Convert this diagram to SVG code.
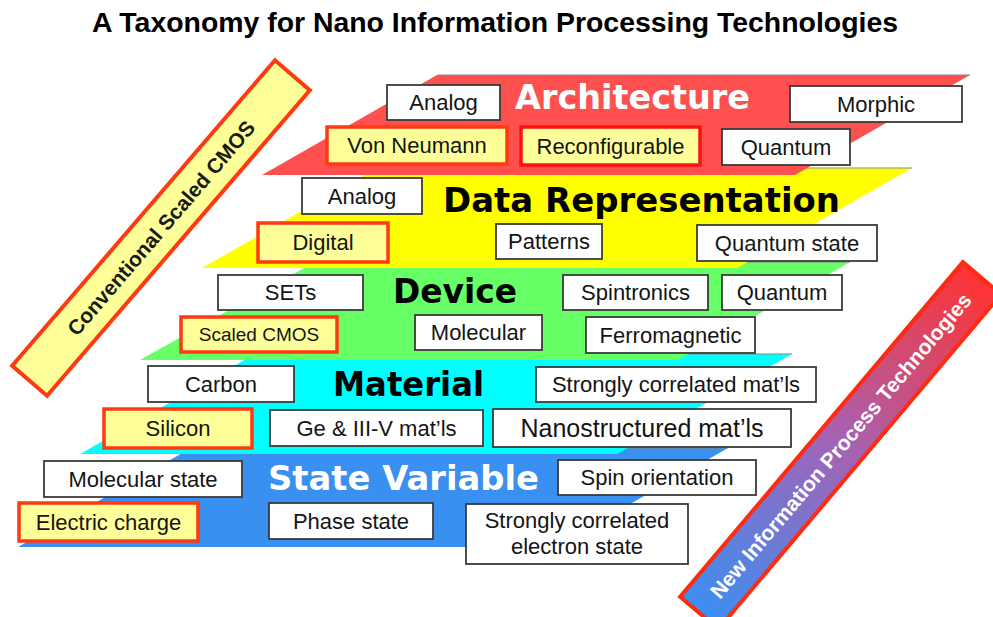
<svg xmlns="http://www.w3.org/2000/svg" width="993" height="617" viewBox="0 0 993 617">
<defs>
<style>
.bx{fill:#fff;stroke:#3a3a3a;stroke-width:1.8}
.yb{fill:#FFFF99;stroke:#FF3A10;stroke-width:3.5}
.rb{fill:#FFFF99;stroke:#FF1010;stroke-width:3.5}
.t{font-family:"Liberation Sans",Arial,sans-serif;font-size:22px;fill:#141414;text-anchor:middle}
.h{font-family:"DejaVu Sans",Verdana,sans-serif;font-weight:bold;font-size:33px;text-anchor:middle}
.edge{fill:none;stroke:#8a8a8a;stroke-width:1.2}
.title{font-family:"Liberation Sans",Arial,sans-serif;font-weight:bold;font-size:28.5px;fill:#000;text-anchor:middle}
.bt{font-family:"Liberation Sans",Arial,sans-serif;font-weight:bold;font-size:21px;text-anchor:middle}
</style>
<linearGradient id="grad" x1="0" y1="0" x2="1" y2="0">
<stop offset="0" stop-color="#3b8ff2"/>
<stop offset="0.5" stop-color="#a463b4"/>
<stop offset="1" stop-color="#ff3333"/>
</linearGradient>
</defs>
<rect width="993" height="617" fill="#fff"/>
<text class="title" x="495" y="32" textLength="806" lengthAdjust="spacingAndGlyphs">A Taxonomy for Nano Information Processing Technologies</text>

<!-- State Variable layer -->
<g id="layer-state-variable">
<polygon points="191,448 728,448 555,547 18,547" fill="#3990F0"/>
<polyline class="edge" points="191,448 728,448"/>
<text class="h" x="403.5" y="490" fill="#fff" textLength="271" lengthAdjust="spacingAndGlyphs">State Variable</text>
<g id="sv-molecular-state"><rect class="bx" x="44" y="461" width="198" height="36"/><text class="t" x="143" y="486.5">Molecular state</text></g>
<g id="sv-spin-orientation"><rect class="bx" x="558" y="460" width="198" height="35"/><text class="t" x="657" y="485">Spin orientation</text></g>
<g id="sv-electric-charge"><rect class="yb" x="19" y="503" width="179" height="38"/><text class="t" x="108.5" y="529.5">Electric charge</text></g>
<g id="sv-phase-state"><rect class="bx" x="269" y="503" width="164" height="36"/><text class="t" x="351" y="528.5">Phase state</text></g>
<g id="sv-strongly-correlated"><rect class="bx" x="466" y="504" width="222" height="60"/><text class="t" x="577" y="528">Strongly correlated</text><text class="t" x="577" y="554">electron state</text></g>
</g>

<!-- Material layer -->
<g id="layer-material">
<polygon points="255,354 792,354 617,454 80,454" fill="#00FFFF"/>
<polyline class="edge" points="255,354 792,354"/>
<text class="h" x="408.5" y="396" fill="#000" textLength="151" lengthAdjust="spacingAndGlyphs">Material</text>
<g id="m-carbon"><rect class="bx" x="148" y="366" width="146" height="36"/><text class="t" x="221" y="391.5">Carbon</text></g>
<g id="m-strongly-correlated"><rect class="bx" x="536" y="367" width="280" height="35"/><text class="t" x="676" y="392">Strongly correlated mat’ls</text></g>
<g id="m-silicon"><rect class="yb" x="104" y="409" width="148" height="39"/><text class="t" x="178" y="436">Silicon</text></g>
<g id="m-ge-iiiv"><rect class="bx" x="270" y="410" width="213" height="36"/><text class="t" x="376.5" y="435.5">Ge &amp; III-V mat’ls</text></g>
<g id="m-nanostructured"><rect class="bx" x="493" y="409" width="298" height="38"/><text class="t" x="642" y="437" style="font-size:25px">Nanostructured mat’ls</text></g>
</g>

<!-- Device layer -->
<g id="layer-device">
<polygon points="315,262 850,262 678,360 140,360" fill="#66FF66"/>
<polyline class="edge" points="315,262 850,262"/>
<text class="h" x="455" y="303" fill="#000" textLength="124" lengthAdjust="spacingAndGlyphs">Device</text>
<g id="d-sets"><rect class="bx" x="218" y="275" width="145" height="35"/><text class="t" x="290.5" y="300">SETs</text></g>
<g id="d-spintronics"><rect class="bx" x="563" y="275" width="145" height="35"/><text class="t" x="635.5" y="300">Spintronics</text></g>
<g id="d-quantum"><rect class="bx" x="722" y="275" width="120" height="35"/><text class="t" x="782" y="300">Quantum</text></g>
<g id="d-scaled-cmos"><rect class="yb" x="181" y="317" width="156" height="35"/><text class="t" x="259" y="341" style="font-size:19px">Scaled CMOS</text></g>
<g id="d-molecular"><rect class="bx" x="415" y="315" width="127" height="35"/><text class="t" x="478.5" y="340">Molecular</text></g>
<g id="d-ferromagnetic"><rect class="bx" x="586" y="317" width="169" height="36"/><text class="t" x="670.5" y="342.5">Ferromagnetic</text></g>
</g>

<!-- Data Representation layer -->
<g id="layer-data-representation">
<polygon points="377,168 912,168 737,268 202,268" fill="#FFFF00"/>
<polyline class="edge" points="377,168 912,168"/>
<text class="h" x="641.5" y="212" fill="#000" textLength="397" lengthAdjust="spacingAndGlyphs">Data Representation</text>
<g id="dr-analog"><rect class="bx" x="302" y="178" width="120" height="36"/><text class="t" x="362" y="203.5">Analog</text></g>
<g id="dr-digital"><rect class="yb" x="258" y="223" width="130" height="39"/><text class="t" x="323" y="250">Digital</text></g>
<g id="dr-patterns"><rect class="bx" x="496" y="224" width="106" height="35"/><text class="t" x="549" y="249">Patterns</text></g>
<g id="dr-quantum-state"><rect class="bx" x="697" y="225" width="180" height="36"/><text class="t" x="787" y="250.5">Quantum state</text></g>
</g>

<!-- Architecture layer -->
<g id="layer-architecture">
<polygon points="437,75 970,75 795,175 262,175" fill="#FF5050"/>
<polyline class="edge" points="437,75 970,75"/>
<text class="h" x="632.5" y="109" fill="#fff" textLength="235" lengthAdjust="spacingAndGlyphs">Architecture</text>
<g id="a-analog"><rect class="bx" x="387" y="85" width="113" height="35"/><text class="t" x="443.5" y="110">Analog</text></g>
<g id="a-morphic"><rect class="bx" x="790" y="86" width="172" height="36"/><text class="t" x="876" y="111.5">Morphic</text></g>
<g id="a-von-neumann"><rect class="yb" x="327" y="127" width="180" height="37"/><text class="t" x="417" y="153">Von Neumann</text></g>
<g id="a-reconfigurable"><rect class="rb" x="521" y="127" width="179" height="38"/><text class="t" x="610.5" y="153.5">Reconfigurable</text></g>
<g id="a-quantum"><rect class="bx" x="722" y="129" width="128" height="36"/><text class="t" x="786" y="154.5">Quantum</text></g>
</g>

<!-- Left banner -->
<g id="banner-conventional" transform="translate(161,228) rotate(-49.3)">
<rect x="-201.5" y="-23" width="403" height="46" fill="#FFFF99" stroke="#FF3A10" stroke-width="4"/>
<text class="bt" x="0" y="7.5" fill="#1a1a1a">Conventional Scaled CMOS</text>
</g>

<!-- Right banner -->
<g id="banner-new" transform="translate(840.6,445.6) rotate(-49.8)">
<rect x="-219" y="-25" width="438" height="50" fill="url(#grad)" stroke="#FF2A10" stroke-width="4"/>
<text class="bt" x="0" y="7.5" fill="#fff">New Information Process Technologies</text>
</g>
</svg>
